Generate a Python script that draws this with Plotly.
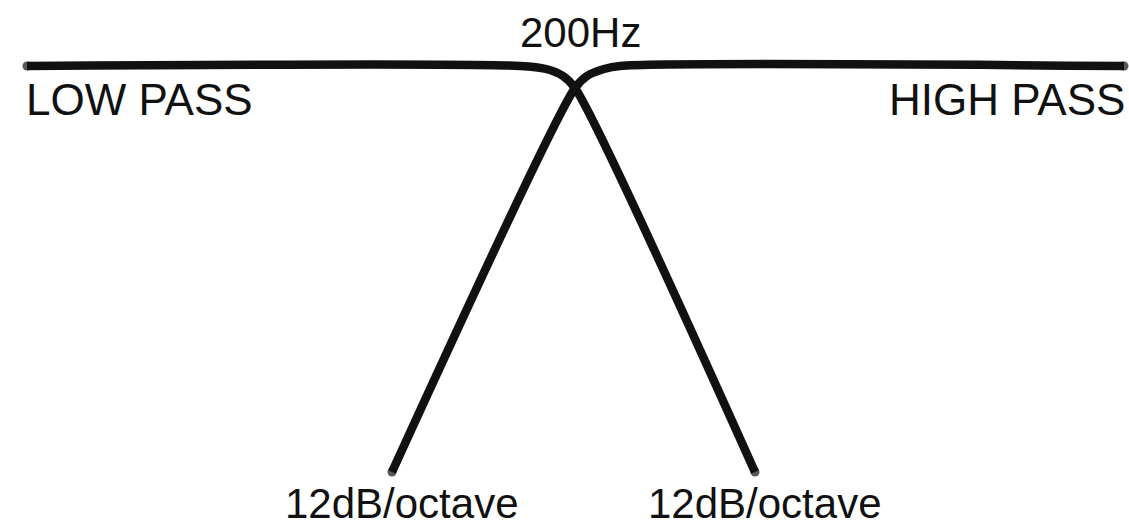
import plotly.graph_objects as go

# Schematic crossover response (abstract drawing units: x to the right, y downward)
low_pass_x = [27, 520, 546, 563, 575, 755]
low_pass_y = [66, 66, 69, 76, 88, 472]
high_pass_x = [1124, 620, 604, 587, 575, 392]
high_pass_y = [66, 66, 69, 76, 88, 472]

crossover_label = "200Hz"
low_label = "LOW PASS"
high_label = "HIGH PASS"
slope_label = "12dB/octave"

FONT = "Liberation Sans"
INK = "#111111"

fig = go.Figure()
for xs, ys, name in [(low_pass_x, low_pass_y, low_label), (high_pass_x, high_pass_y, high_label)]:
    sizes = [9] + [0] * (len(xs) - 2) + [9]
    fig.add_trace(go.Scatter(
        x=xs, y=ys, name=name, mode="lines+markers",
        line=dict(color=INK, width=8.5, shape="spline", smoothing=0.8),
        marker=dict(color=INK, size=sizes, line=dict(width=0)),
        hoverinfo="skip", showlegend=False,
    ))

annotations = [
    dict(x=580, y=32, text=crossover_label, xanchor="center", yanchor="middle", size=42),
    dict(x=24, y=99, text=low_label, xanchor="left", yanchor="middle", size=44),
    dict(x=1127, y=99, text=high_label, xanchor="right", yanchor="middle", size=44),
    dict(x=low_pass_x[-1] + 10, y=503, text=slope_label, xanchor="center", yanchor="middle", size=42),
    dict(x=high_pass_x[-1] + 10, y=503, text=slope_label, xanchor="center", yanchor="middle", size=42),
]
for a in annotations:
    fig.add_annotation(x=a["x"], y=a["y"], text=a["text"], showarrow=False,
                       xanchor=a["xanchor"], yanchor=a["yanchor"],
                       font=dict(family=FONT, size=a["size"], color=INK))

fig.update_xaxes(range=[0, 1129], visible=False, fixedrange=True)
fig.update_yaxes(range=[527, 0], visible=False, fixedrange=True)
fig.update_layout(
    width=1129, height=527,
    margin=dict(l=0, r=0, t=0, b=0),
    paper_bgcolor="white", plot_bgcolor="white",
)
fig.write_html(
    "out.html",
    config={"staticPlot": True},
    post_script="document.body.style.margin='0';document.body.style.overflow='hidden';",
)
